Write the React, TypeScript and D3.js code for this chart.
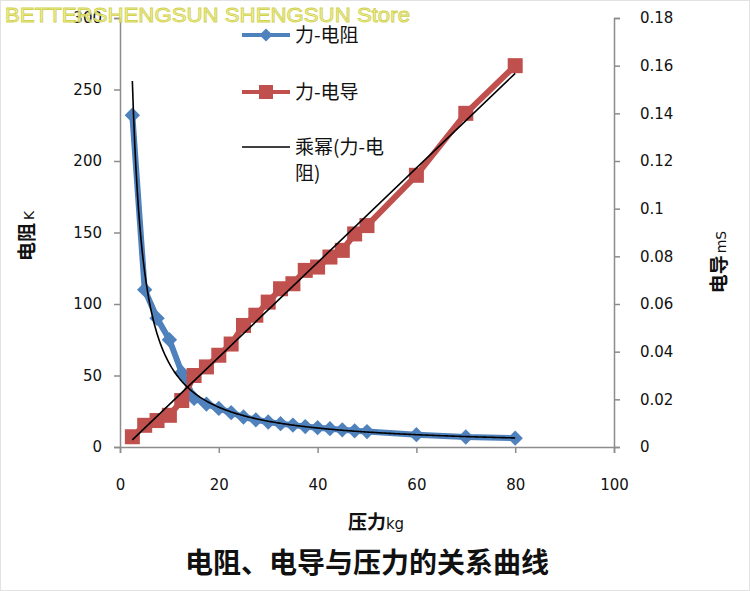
import React, { useEffect, useRef } from 'react';
import * as d3 from 'd3';

// pressure (kg) and the two measured series
const pressure = [2.5, 5, 7.5, 10, 12.5, 15, 17.5, 20, 22.5, 25, 27.5, 30, 32.5, 35, 37.5, 40, 42.5, 45, 47.5, 50, 60, 70, 80];
const resistance = [232, 110, 90, 75, 52, 34, 30, 27, 24, 21, 19, 17.5, 16.3, 15.3, 14.3, 13.5, 12.8, 12, 11.3, 10.8, 8.6, 7, 6.2];
const conductance = [0.0043, 0.0091, 0.0111, 0.0133, 0.0195, 0.03, 0.0336, 0.0385, 0.0432, 0.051, 0.0553, 0.0608, 0.0664, 0.0685, 0.0741, 0.0755, 0.0797, 0.0825, 0.0894, 0.0929, 0.114, 0.14, 0.16];

const xTicks = [0, 20, 40, 60, 80, 100];
const leftTicks = [0, 50, 100, 150, 200, 250, 300];
const rightTicks = [0, 0.02, 0.04, 0.06, 0.08, 0.1, 0.12, 0.14, 0.16, 0.18];

const legendLabels = ['力-电阻', '力-电导', '乘幂(力-电', '阻)'];
const title = '电阻、电导与压力的关系曲线';
const watermark = 'BETTERSHENGSUN SHENGSUN Store';

const BLUE = '#4F81BD';
const RED = '#C0504D';
const AXIS = '#8c8c8c';
const CJK = '"Noto Sans CJK SC", "DejaVu Sans", sans-serif';
const NUM = '"DejaVu Sans", sans-serif';

export default function App() {
  const svgRef = useRef<SVGSVGElement>(null);

  useEffect(() => {
    if (!svgRef.current) return;
    document.body.style.margin = '0';

    const width = 750;
    const height = 591;
    const margin = { top: 18, right: 136, bottom: 144, left: 120 };
    const innerWidth = width - margin.left - margin.right;
    const innerHeight = height - margin.top - margin.bottom;

    d3.select(svgRef.current).selectAll('*').remove();
    const svg = d3.select(svgRef.current)
      .attr('width', width)
      .attr('height', height);

    svg.append('rect')
      .attr('x', 0.5).attr('y', 0.5)
      .attr('width', width - 1).attr('height', height - 1)
      .attr('fill', '#fff')
      .attr('stroke', '#e2e2e2');

    const g = svg.append('g')
      .attr('transform', `translate(${margin.left},${margin.top})`);

    const x = d3.scaleLinear().domain([0, 100]).range([0, innerWidth]);
    const yL = d3.scaleLinear().domain([0, 300]).range([innerHeight, 0]);
    const yR = d3.scaleLinear().domain([0, 0.18]).range([innerHeight, 0]);

    // axes
    const styleAxis = (sel: d3.Selection<SVGGElement, unknown, null, undefined>) => {
      sel.select('.domain').attr('stroke', AXIS).attr('stroke-width', 1.5);
      sel.selectAll('.tick line').attr('stroke', AXIS).attr('stroke-width', 1.5);
      sel.selectAll('.tick text')
        .attr('fill', '#111')
        .style('font-family', NUM)
        .style('font-size', '15px');
    };

    g.append('g')
      .attr('transform', `translate(0,${innerHeight})`)
      .call(d3.axisBottom(x).tickValues(xTicks).tickSizeOuter(0).tickSize(6).tickPadding(26))
      .call(styleAxis);

    g.append('g')
      .call(d3.axisLeft(yL).tickValues(leftTicks).tickSizeOuter(0).tickSize(6).tickPadding(12))
      .call(styleAxis);

    g.append('g')
      .attr('transform', `translate(${innerWidth},0)`)
      .call(d3.axisRight(yR).tickValues(rightTicks).tickSizeOuter(0).tickSize(6)
        .tickPadding(20).tickFormat(d => String(+(+d).toFixed(2))))
      .call(styleAxis);

    // series lines
    const lineR = d3.line<number>().x((d, i) => x(pressure[i])).y(d => yL(d));
    const lineG = d3.line<number>().x((d, i) => x(pressure[i])).y(d => yR(d));

    g.append('path').datum(resistance)
      .attr('fill', 'none').attr('stroke', BLUE).attr('stroke-width', 6)
      .attr('stroke-linejoin', 'round').attr('d', lineR);

    g.append('path').datum(conductance)
      .attr('fill', 'none').attr('stroke', RED).attr('stroke-width', 6)
      .attr('stroke-linejoin', 'round').attr('d', lineG);

    // markers
    const diamond = d3.symbol().type(d3.symbolDiamond2).size(150);
    g.append('g').selectAll('path')
      .data(resistance)
      .join('path')
      .attr('d', diamond)
      .attr('transform', (d, i) => `translate(${x(pressure[i])},${yL(d)})`)
      .attr('fill', BLUE);

    g.append('g').selectAll('rect')
      .data(conductance)
      .join('rect')
      .attr('x', (d, i) => x(pressure[i]) - 7.5)
      .attr('y', d => yR(d) - 7.5)
      .attr('width', 15).attr('height', 15)
      .attr('fill', RED);

    // trendlines: power fit for resistance, linear fit for conductance
    const lx = pressure.map(Math.log);
    const ly = resistance.map(Math.log);
    const mx = d3.mean(lx)!;
    const my = d3.mean(ly)!;
    const b = d3.sum(lx, (v, i) => (v - mx) * (ly[i] - my)) / d3.sum(lx, v => (v - mx) ** 2);
    const a = Math.exp(my - b * mx);
    const xs = d3.range(pressure[0], pressure[pressure.length - 1] + 0.01, 0.25);
    g.append('path').datum(xs)
      .attr('fill', 'none').attr('stroke', '#000').attr('stroke-width', 1.6)
      .attr('d', d3.line<number>().x(d => x(d)).y(d => yL(a * Math.pow(d, b))));

    const px = d3.mean(pressure)!;
    const pg = d3.mean(conductance)!;
    const k = d3.sum(pressure, (v, i) => (v - px) * (conductance[i] - pg)) / d3.sum(pressure, v => (v - px) ** 2);
    const c = pg - k * px;
    const ends = [pressure[0], pressure[pressure.length - 1]];
    g.append('path').datum(ends)
      .attr('fill', 'none').attr('stroke', '#000').attr('stroke-width', 1.6)
      .attr('d', d3.line<number>().x(d => x(d)).y(d => yR(c + k * d)));

    // legend
    const lg = svg.append('g');
    const rows = [35, 92, 147];
    lg.append('line').attr('x1', 242).attr('x2', 290).attr('y1', rows[0]).attr('y2', rows[0])
      .attr('stroke', BLUE).attr('stroke-width', 4);
    lg.append('path').attr('d', d3.symbol().type(d3.symbolDiamond2).size(110))
      .attr('transform', `translate(266,${rows[0]})`).attr('fill', BLUE);
    lg.append('line').attr('x1', 242).attr('x2', 290).attr('y1', rows[1]).attr('y2', rows[1])
      .attr('stroke', RED).attr('stroke-width', 4);
    lg.append('rect').attr('x', 259).attr('y', rows[1] - 7).attr('width', 14).attr('height', 14)
      .attr('fill', RED);
    lg.append('line').attr('x1', 242).attr('x2', 290).attr('y1', rows[2]).attr('y2', rows[2])
      .attr('stroke', '#000').attr('stroke-width', 1.5);

    lg.selectAll('text')
      .data(legendLabels)
      .join('text')
      .attr('x', 295)
      .attr('y', (d, i) => (i < 3 ? rows[i] : 173))
      .attr('dy', '0.35em')
      .attr('fill', '#111')
      .style('font-family', CJK)
      .style('font-size', '19px')
      .text(d => d);

    // axis titles
    const leftTitle = svg.append('text')
      .attr('transform', 'translate(34,236) rotate(-90)')
      .attr('text-anchor', 'middle')
      .attr('fill', '#111');
    leftTitle.append('tspan').style('font-family', CJK).style('font-size', '19px')
      .style('font-weight', 'bold').text('电阻');
    leftTitle.append('tspan').style('font-family', NUM).style('font-size', '14px').attr('dx', 3).text('K');

    const rightTitle = svg.append('text')
      .attr('transform', 'translate(726,262) rotate(-90)')
      .attr('text-anchor', 'middle')
      .attr('fill', '#111');
    rightTitle.append('tspan').style('font-family', CJK).style('font-size', '19px')
      .style('font-weight', 'bold').text('电导');
    rightTitle.append('tspan').style('font-family', NUM).style('font-size', '14px').attr('dx', 2).text('mS');

    const xTitle = svg.append('text')
      .attr('x', 376).attr('y', 529)
      .attr('text-anchor', 'middle')
      .attr('fill', '#111');
    xTitle.append('tspan').style('font-family', CJK).style('font-size', '19px')
      .style('font-weight', 'bold').text('压力');
    xTitle.append('tspan').style('font-family', NUM).style('font-size', '15px').text('kg');

    svg.append('text')
      .attr('x', 367).attr('y', 573)
      .attr('text-anchor', 'middle')
      .attr('fill', '#111')
      .style('font-family', CJK)
      .style('font-size', '28px')
      .style('font-weight', 'bold')
      .text(title);

    // shop watermark on top
    svg.append('text')
      .attr('x', 5).attr('y', 22)
      .attr('textLength', 405)
      .attr('lengthAdjust', 'spacingAndGlyphs')
      .attr('fill', '#f0f09a')
      .attr('fill-opacity', 0.8)
      .attr('stroke', '#d2d24e')
      .attr('stroke-width', 0.9)
      .style('font-family', '"Liberation Sans", Arial, sans-serif')
      .style('font-size', '21px')
      .text(watermark);
  }, []);

  return (
    <div style={{ width: 750, height: 591 }}>
      <svg ref={svgRef} style={{ display: 'block' }} />
    </div>
  );
}
